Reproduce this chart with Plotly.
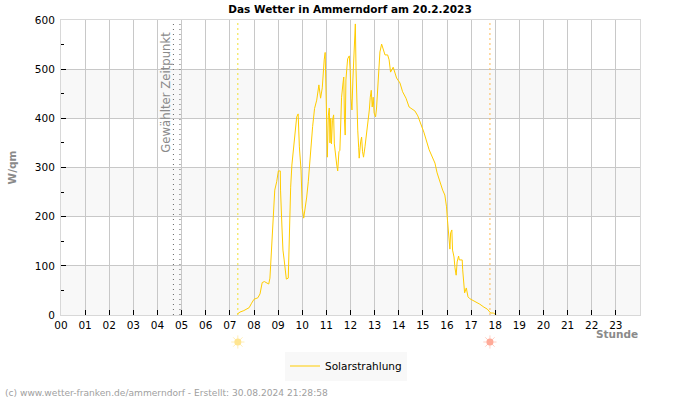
import plotly.graph_objects as go

hours = [7.31,7.42,7.58,7.70,7.80,7.90,8.00,8.16,8.25,8.34,8.43,8.61,8.66,8.69,8.73,8.77,8.81,8.86,8.94,9.01,9.09,9.10,9.16,9.20,9.25,9.31,9.34,9.42,9.44,9.48,9.52,9.57,9.63,9.70,9.77,9.83,9.88,9.95,10.00,10.06,10.11,10.18,10.25,10.32,10.36,10.43,10.51,10.60,10.69,10.76,10.83,10.86,10.91,10.95,10.98,
11.02,11.04,11.08,11.12,11.15,11.18,11.21,11.25,11.30,11.33,11.38,11.43,11.47,11.52,11.56,11.60,11.63,11.69,11.72,11.75,11.78,11.81,11.88,11.95,11.99,12.02,12.06,12.10,12.16,12.20,12.23,12.25,12.30,12.34,12.36,12.42,12.46,12.50,12.54,12.60,12.65,12.69,12.75,12.78,12.82,12.86,12.90,12.94,12.98,13.04,13.08,13.12,13.17,13.22,13.29,13.36,13.43,13.54,13.60,13.66,13.72,13.77,13.91,14.05,14.16,14.30,14.43,14.55,14.67,14.79,14.92,15.04,15.26,15.40,15.50,15.59,15.71,15.82,15.91,15.98,16.02,16.08,16.12,16.15,16.20,16.23,16.29,16.33,16.38,16.42,16.48,16.51,16.63,16.65,16.69,16.73,16.80,16.87,16.95,17.16,17.36,17.53,17.67,17.81,17.92,18.05]
watts = [2,6,9,13,15,24,32,35,43,66,68,63,75,101,142,187,230,254,271,293,293,254,177,132,112,92,73,75,118,205,260,305,335,382,403,409,342,295,217,197,213,238,271,321,350,383,420,437,468,441,462,490,519,534,482,
376,321,405,421,350,400,348,395,407,348,321,305,293,332,335,400,443,472,484,397,366,478,521,527,494,441,417,480,551,592,498,443,376,340,319,352,362,332,321,342,362,383,403,417,443,457,423,443,411,403,421,454,505,535,551,539,529,529,519,494,500,504,482,472,454,441,423,419,415,405,388,372,336,321,309,289,268,254,244,220,193,142,134,167,173,132,118,96,81,108,120,112,112,92,61,45,55,37,33,28,22,16,12,4,4,0]

hour_labels = [f"{h:02d}" for h in range(24)]
y_major = [0, 100, 200, 300, 400, 500, 600]
y_minor = [50, 150, 250, 350, 450, 550]
band_starts = [0, 200, 400]
selected_times = [4.66, 4.93]
sunrise = 7.33
sunset = 17.78

FONT = "DejaVu Sans"
GREY = "#8a8a8a"
W, H = 700, 400
M_L, M_R, M_T, M_B = 61, 60, 20, 20
PLOT_W = W - M_L - M_R
PLOT_H = H - M_T - M_B


def px(x):
    return (x - M_L) / PLOT_W


def py(y):
    return (H - M_B - y) / PLOT_H


fig = go.Figure()

for t in selected_times:
    fig.add_trace(go.Scatter(x=[t, t], y=[0, 600], mode="lines", showlegend=False, hoverinfo="skip",
                             line=dict(color="#666666", width=1, dash="1px 4px")))
fig.add_trace(go.Scatter(x=[sunrise, sunrise], y=[0, 600], mode="lines", showlegend=False, hoverinfo="skip",
                         line=dict(color="#f0e030", width=1, dash="2px 3px")))
fig.add_trace(go.Scatter(x=[sunset, sunset], y=[0, 600], mode="lines", showlegend=False, hoverinfo="skip",
                         line=dict(color="#ffb850", width=1, dash="2px 3px")))

fig.add_trace(go.Scatter(x=hours, y=watts, mode="lines", name="Solarstrahlung",
                         line=dict(color="#ffcc00", width=1)))

# Sun symbols in a strip below the axis
for t, c_ray, c_core in [(sunrise, "#ffeeb8", "#ffe590"), (sunset, "#ffd0c4", "#ffaa98")]:
    fig.add_trace(go.Scatter(x=[t], y=[0.5], xaxis="x2", yaxis="y2", mode="markers", showlegend=False,
                             hoverinfo="skip",
                             marker=dict(symbol="asterisk-open", size=11, color=c_ray, line=dict(color=c_ray, width=1))))
    fig.add_trace(go.Scatter(x=[t], y=[0.5], xaxis="x2", yaxis="y2", mode="markers", showlegend=False,
                             hoverinfo="skip",
                             marker=dict(symbol="circle", size=7, color=c_core)))

for s in band_starts:
    fig.add_shape(type="rect", xref="x", yref="y", x0=0, x1=24, y0=s, y1=s + 100,
                  fillcolor="#f8f8f8", line_width=0, layer="below")

fig.add_annotation(x=4.35, y=454, xref="x", yref="y", text="Gewählter Zeitpunkt", textangle=-90, showarrow=False,
                   font=dict(family=FONT, size=11.7, color=GREY), xanchor="center", yanchor="middle")
fig.add_annotation(x=1.0, y=py(334), xref="paper", yref="paper", text="<b>Stunde</b>", showarrow=False,
                   font=dict(family=FONT, size=10.5, color=GREY), xanchor="right", yanchor="middle")
fig.add_annotation(x=px(3), y=py(393), xref="paper", yref="paper", showarrow=False,
                   text="(c) www.wetter-franken.de/ammerndorf - Erstellt: 30.08.2024 21:28:58",
                   font=dict(family=FONT, size=9.1, color="#a0a0a0"), xanchor="left", yanchor="middle")

fig.update_layout(
    width=W, height=H,
    margin=dict(l=M_L, r=M_R, t=M_T, b=M_B, autoexpand=False),
    paper_bgcolor="white", plot_bgcolor="white",
    font=dict(family=FONT, size=10, color="black"),
    title=dict(text="<b>Das Wetter in Ammerndorf am 20.2.2023</b>", x=0.5, xanchor="center",
               y=1 - 9/H, yanchor="middle", font=dict(family=FONT, size=10.5, color="black")),
    showlegend=True,
    legend=dict(x=px(346), y=py(366), xanchor="center", yanchor="middle", orientation="h",
                bgcolor="#f8f8f8", borderwidth=0, font=dict(family=FONT, size=10.5, color="black")),
    xaxis=dict(range=[0, 24], tickmode="array", tickvals=list(range(24)), ticktext=hour_labels,
               ticks="inside", ticklen=5, tickwidth=1, tickcolor="black",
               showgrid=True, gridcolor="#c8c8c8", gridwidth=1, zeroline=False,
               showline=True, linecolor="#d8d8d8", linewidth=1, mirror=True, anchor="y",
               tickfont=dict(family=FONT, size=10.5)),
    yaxis=dict(range=[0, 600], domain=[py(315), 1], tickmode="array", tickvals=y_major,
               ticks="inside", ticklen=5, tickwidth=1, tickcolor="black", ticklabelstandoff=3,
               minor=dict(tickmode="array", tickvals=y_minor, ticks="inside", ticklen=3,
                          tickwidth=1, tickcolor="black", showgrid=False),
               showgrid=True, gridcolor="#c8c8c8", gridwidth=1, zeroline=False,
               showline=True, linecolor="#d8d8d8", linewidth=1, mirror=True, anchor="x",
               tickfont=dict(family=FONT, size=10.5),
               title=dict(text="<b>W/qm</b>", standoff=16, font=dict(family=FONT, size=10.5, color=GREY))),
    xaxis2=dict(range=[0, 24], visible=False, anchor="y2", fixedrange=True, showgrid=False, zeroline=False),
    yaxis2=dict(range=[0, 1], domain=[py(352), py(332)], visible=False, anchor="x2", fixedrange=True,
                showgrid=False, zeroline=False),
)

fig.write_html("out.html", config=dict(displayModeBar=False),
               post_script="document.body.style.margin='0';document.body.style.overflow='hidden';")
